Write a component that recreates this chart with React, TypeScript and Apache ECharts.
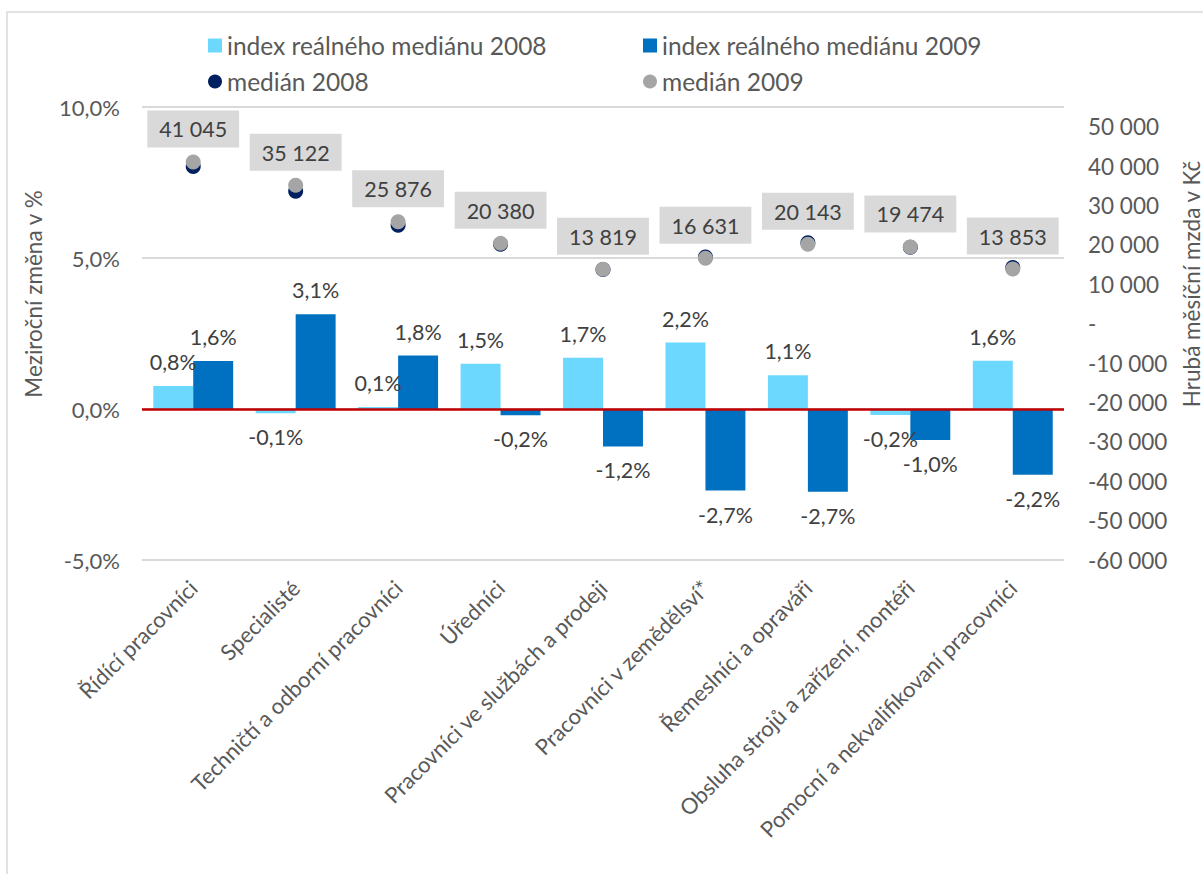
import React, { useEffect, useRef } from "react";
import * as echarts from "echarts";

const categories = [
  "Řídící pracovníci",
  "Specialisté",
  "Techničtí a odborní pracovníci",
  "Úředníci",
  "Pracovníci ve službách a prodeji",
  "Pracovníci v zemědělsví*",
  "Řemeslníci a opraváři",
  "Obsluha strojů a zařízení, montéři",
  "Pomocní a nekvalifikovaní pracovníci",
];

const index2008 = [0.76, -0.14, 0.07, 1.5, 1.7, 2.2, 1.12, -0.2, 1.6];
const index2009 = [1.59, 3.14, 1.77, -0.21, -1.24, -2.7, -2.74, -1.03, -2.18];
const median2008 = [39900, 33600, 25000, 20150, 13750, 16950, 20550, 19400, 14250];
const median2009 = [41045, 35122, 25876, 20380, 13819, 16631, 20143, 19474, 13853];

const leftTicks = { min: -5, max: 10, interval: 5 };
const rightTicks = { min: -60000, max: 55000, interval: 10000 };

const seriesNames = {
  i2008: "index reálného mediánu 2008",
  i2009: "index reálného mediánu 2009",
  m2008: "medián 2008",
  m2009: "medián 2009",
};

const FONT = "Lato";
const TXT = "#595959";
const LBL = "#404040";

const fmtPct = (v: number) => v.toFixed(1).replace(".", ",") + "%";
const fmtThousands = (v: number) => {
  if (v === 0) return "-";
  const s = String(Math.abs(Math.round(v))).replace(/\B(?=(\d{3})+(?!\d))/g, " ");
  return (v < 0 ? "-" : "") + s;
};

const barData = (arr: number[]) =>
  arr.map((v) => ({
    value: v,
    label: { position: v >= 0 ? "top" : "bottom" },
  }));

export default function App() {
  const ref = useRef<HTMLDivElement>(null);

  useEffect(() => {
    if (!ref.current) return;
    const chart = echarts.init(ref.current, null, { renderer: "svg" });
    const barLabel = {
      show: true,
      formatter: (p: any) => fmtPct(p.value),
      fontSize: 21.5,
      color: LBL,
      fontFamily: FONT,
      distance: 13,
    };
    const legendText = { fontSize: 24.5, color: TXT, fontFamily: FONT };
    chart.setOption({
      animation: false,
      textStyle: { fontFamily: FONT },
      grid: { left: 142, right: 139, top: 107, bottom: 314, containLabel: false },
      legend: [
        {
          orient: "vertical",
          left: 203,
          top: 28,
          itemWidth: 14,
          itemHeight: 14,
          itemGap: 11,
          textStyle: legendText,
          data: [
            { name: seriesNames.i2008, icon: "rect" },
            { name: seriesNames.m2008, icon: "circle" },
          ],
        },
        {
          orient: "vertical",
          left: 638,
          top: 28,
          itemWidth: 14,
          itemHeight: 14,
          itemGap: 11,
          textStyle: legendText,
          data: [
            { name: seriesNames.i2009, icon: "rect" },
            { name: seriesNames.m2009, icon: "circle" },
          ],
        },
      ],
      xAxis: {
        type: "category",
        data: categories,
        axisLine: { show: false, onZero: false },
        axisTick: { show: false },
        axisLabel: {
          interval: 0,
          rotate: 45,
          fontSize: 22,
          color: TXT,
          fontFamily: FONT,
          margin: 24,
        },
      },
      yAxis: [
        {
          type: "value",
          min: leftTicks.min,
          max: leftTicks.max,
          interval: leftTicks.interval,
          axisLine: { show: false },
          axisTick: { show: false },
          splitLine: { lineStyle: { color: "#d9d9d9", width: 2 } },
          axisLabel: {
            formatter: (v: number) => fmtPct(v),
            fontSize: 22,
            color: TXT,
            fontFamily: FONT,
            margin: 22,
          },
        },
        {
          type: "value",
          min: rightTicks.min,
          max: rightTicks.max,
          interval: rightTicks.interval,
          axisLine: { show: false },
          axisTick: { show: false },
          splitLine: { show: false },
          axisLabel: {
            formatter: (v: number) => fmtThousands(v),
            fontSize: 22.5,
            color: TXT,
            fontFamily: FONT,
            margin: 24,
            showMaxLabel: false,
          },
        },
      ],
      series: [
        {
          name: seriesNames.i2008,
          type: "bar",
          yAxisIndex: 0,
          data: barData(index2008),
          itemStyle: { color: "#6dd8fd" },
          barGap: "0%",
          barCategoryGap: "22%",
          label: barLabel,
          markLine: {
            silent: true,
            symbol: "none",
            label: { show: false },
            lineStyle: { color: "#c00000", width: 2.5, type: "solid" },
            data: [{ yAxis: 0 }],
          },
          z: 2,
        },
        {
          name: seriesNames.i2009,
          type: "bar",
          yAxisIndex: 0,
          data: barData(index2009),
          itemStyle: { color: "#0070c0" },
          barGap: "0%",
          barCategoryGap: "22%",
          label: barLabel,
          z: 2,
        },
        {
          name: seriesNames.m2008,
          type: "scatter",
          yAxisIndex: 1,
          data: median2008,
          symbol: "circle",
          symbolSize: 15,
          itemStyle: { color: "#002060", opacity: 1 },
          z: 3,
        },
        {
          name: seriesNames.m2009,
          type: "scatter",
          yAxisIndex: 1,
          data: median2009,
          symbol: "circle",
          symbolSize: 15,
          itemStyle: { color: "#a5a5a5", opacity: 1 },
          label: {
            show: true,
            position: "top",
            distance: 7,
            formatter: (p: any) => fmtThousands(p.value),
            fontSize: 21.5,
            color: LBL,
            fontFamily: FONT,
            backgroundColor: "#d9d9d9",
            padding: [8, 12, 7, 12],
            lineHeight: 22,
          },
          z: 4,
        },
      ],
      graphic: [
        {
          type: "rect",
          shape: { x: 7, y: 12, width: 1400, height: 1000 },
          style: { fill: "none", stroke: "#d9d9d9", lineWidth: 1.5 },
          silent: true,
          z: -10,
        },
        {
          type: "text",
          x: 33,
          y: 294,
          rotation: Math.PI / 2,
          style: {
            text: "Meziroční změna v %",
            fontSize: 22.5,
            fill: TXT,
            fontFamily: FONT,
            align: "center",
            verticalAlign: "middle",
          },
        },
        {
          type: "text",
          x: 1191,
          y: 284,
          rotation: Math.PI / 2,
          style: {
            text: "Hrubá měsíční mzda v Kč",
            fontSize: 22.5,
            fill: TXT,
            fontFamily: FONT,
            align: "center",
            verticalAlign: "middle",
          },
        },
      ],
    });
    return () => chart.dispose();
  }, []);

  return (
    <div
      ref={ref}
      style={{ position: "fixed", left: 0, top: 0, width: 1203, height: 874, background: "#fff" }}
    />
  );
}
